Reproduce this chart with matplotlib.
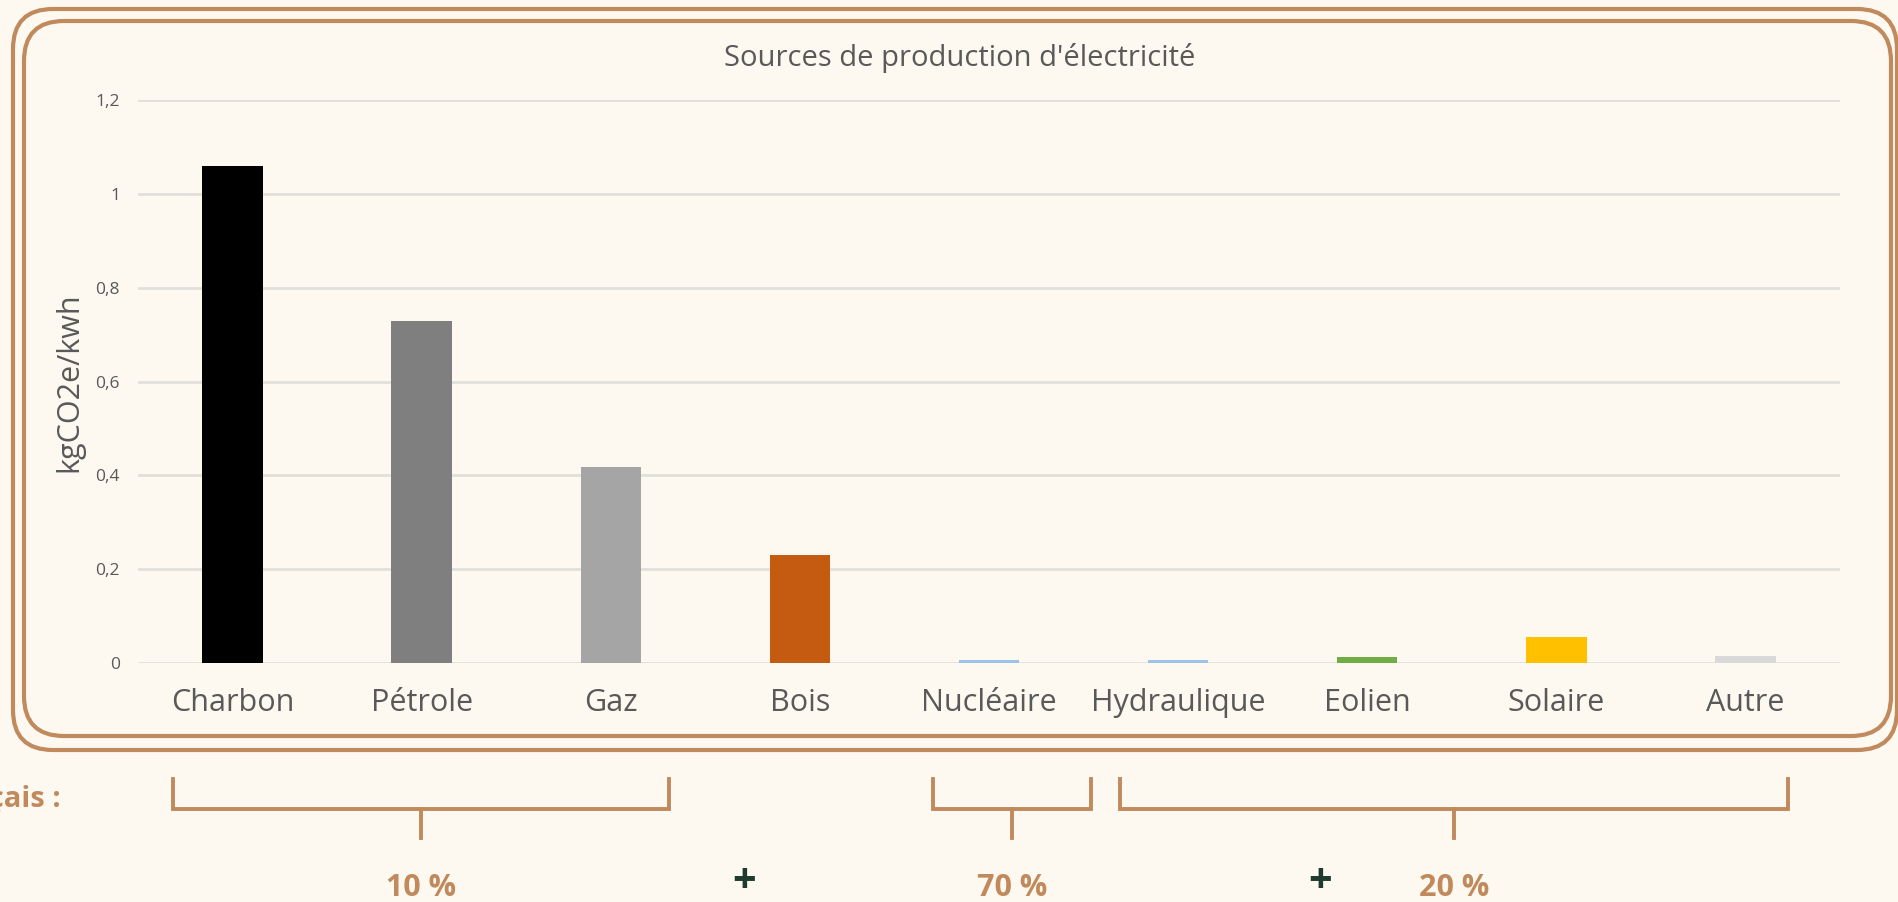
import matplotlib
matplotlib.use("Agg")
import matplotlib.pyplot as plt
from matplotlib.patches import FancyBboxPatch

# data
sources = ["Charbon", "Pétrole", "Gaz", "Bois", "Nucléaire",
           "Hydraulique", "Eolien", "Solaire", "Autre"]
emissions = [1.06, 0.73, 0.418, 0.23, 0.006, 0.006, 0.013, 0.055, 0.015]
colors = ["#000000", "#7f7f7f", "#a5a5a5", "#c55a11", "#9dc3e6",
          "#9dc3e6", "#70ad47", "#ffc000", "#d9d9d9"]
yticks = [0, 0.2, 0.4, 0.6, 0.8, 1.0, 1.2]
ytick_labels = ["0", "0,2", "0,4", "0,6", "0,8", "1", "1,2"]
groups = ["10 %", "70 %", "20 %"]

# layout (pixels, y from top)
bracket_x = [(173, 669), (933, 1091), (1120, 1788)]
plus_x = [744, 1320]

bg = "#fdf9f1"
brown = "#c08a5d"
grey_txt = "#595959"
plt.rcParams["font.family"] = ["Open Sans", "DejaVu Sans"]

W, H = 1898, 902
fig = plt.figure(figsize=(W / 100, H / 100), dpi=100, facecolor=bg)

# background layer in pixel coords (y down)
bgax = fig.add_axes([0, 0, 1, 1], zorder=0)
bgax.set_xlim(0, W)
bgax.set_ylim(H, 0)
bgax.axis("off")

for (x0, y0, x1, y1) in [(13, 9, 1897, 750), (24, 21, 1891, 736)]:
    bgax.add_patch(FancyBboxPatch((x0, y0), x1 - x0, y1 - y0,
                                  boxstyle="round,pad=0,rounding_size=40",
                                  fc="none", ec=brown, lw=3))

# bar chart
ax_left, ax_right = 138, 1840
ax_top, ax_bot = 100.5, 663
ax = fig.add_axes([ax_left / W, 1 - ax_bot / H, (ax_right - ax_left) / W,
                   (ax_bot - ax_top) / H], zorder=2)
ax.set_facecolor("none")
x = list(range(len(sources)))
ax.bar(x, emissions, width=0.32, color=colors, zorder=3)
ax.set_xlim(-0.5, len(sources) - 0.5)
ax.set_ylim(0, 1.2)
ax.set_yticks(yticks)
ax.set_yticklabels(ytick_labels, fontsize=12.5, color=grey_txt)
ax.set_xticks(x)
ax.set_xticklabels(sources, fontsize=22, color=grey_txt)
ax.tick_params(axis="both", length=0)
ax.tick_params(axis="x", pad=18)
ax.tick_params(axis="y", pad=13)
for s in ax.spines.values():
    s.set_visible(False)
ax.grid(axis="y", color="#e2e0db", lw=2, zorder=0)
ax.set_ylabel("kgCO2e/kwh", fontsize=22, color=grey_txt, labelpad=8)
fig.text(960 / W, 1 - 58 / H, "Sources de production d'électricité",
         fontsize=21, color=grey_txt, ha="center", va="center")

# brackets grouping the sources
for (xa, xb), lab in zip(bracket_x, groups):
    xm = (xa + xb) / 2
    bgax.plot([xa, xa, xb, xb], [779, 809, 809, 779], color=brown, lw=2.8,
              solid_joinstyle="miter")
    bgax.plot([xm, xm], [809, 838], color=brown, lw=2.8)
    bgax.text(xm, 888, lab, ha="center", va="center", fontsize=22,
              fontweight="bold", color=brown)

bgax.text(61, 807, "Mix français :", ha="right", va="baseline", fontsize=21,
          fontweight="bold", color=brown)
for px in plus_x:
    bgax.text(px, 882, "+", ha="center", va="center", fontsize=30,
              fontweight="bold", color="#1f3a2e")

fig.savefig("out.png", dpi=100, facecolor=bg)
